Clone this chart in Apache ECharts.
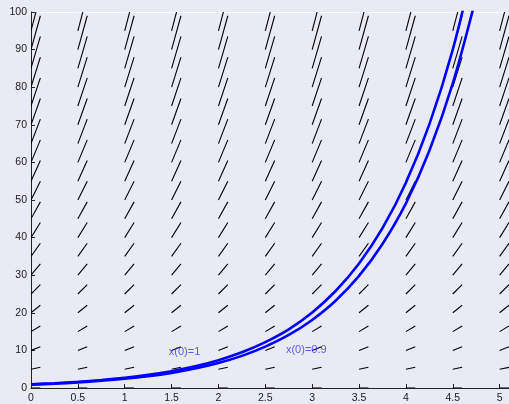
<!DOCTYPE html>
<html>
<head>
<meta charset="utf-8">
<script src="https://cdn.jsdelivr.net/npm/echarts@6/dist/echarts.min.js"></script>
<style>
  html, body { margin: 0; padding: 0; background: #eaeaf5; }
  #chart { width: 509px; height: 404px; }
</style>
</head>
<body>
<div id="chart"></div>
<script>
// Direction field of dx/dt = x and two solution curves.
const tGrid = [0, 0.5, 1, 1.5, 2, 2.5, 3, 3.5, 4, 4.5, 5];
const xGrid = [0, 5, 10, 15, 20, 25, 30, 35, 40, 45, 50, 55, 60, 65, 70, 75, 80, 85, 90, 95, 100];
const xTicks = [0, 0.5, 1, 1.5, 2, 2.5, 3, 3.5, 4, 4.5, 5];
const yTicks = [0, 10, 20, 30, 40, 50, 60, 70, 80, 90, 100];

// solution samples
const tSamples = [0, 0.25, 0.5, 0.75, 1, 1.25, 1.5, 1.75, 2, 2.25, 2.5, 2.75, 3, 3.25, 3.5, 3.75, 4, 4.25, 4.5, 4.75];
const xFrom1   = [1.0, 1.28, 1.65, 2.12, 2.72, 3.49, 4.48, 5.75, 7.39, 9.49, 12.2, 15.6, 20.1, 25.8, 33.1, 42.5, 54.6, 70.1, 90.0, 115.6];
const xFrom09  = [0.9, 1.15, 1.48, 1.91, 2.45, 3.14, 4.03, 5.18, 6.65, 8.54, 11.0, 14.1, 18.1, 23.2, 29.8, 38.3, 49.1, 63.1, 81.0, 104.0];

const curveLabels = ['x(0)=1', 'x(0)=0.9'];
const labelPos = [[1.47, 9.5], [2.72, 10.2]];

// slope at each field point: dx/dt = x
const fieldData = [];
tGrid.forEach(t => xGrid.forEach(x => fieldData.push([t, x, x])));

const STEP = 0.1; // length of each field segment along t

const chart = echarts.init(document.getElementById('chart'), null, { renderer: 'canvas' });

const fontFamily = '"Liberation Sans", Arial, Helvetica, sans-serif';

chart.setOption({
  backgroundColor: '#eaeaf5',
  animation: false,
  grid: { left: 31, right: 0, top: 12, bottom: 15, containLabel: false },
  xAxis: [{
    type: 'value', min: 0, max: 5.1,
    axisLine: { show: true, onZero: false, lineStyle: { color: '#222', width: 1 } },
    axisTick: { show: true, inside: true, length: 4, customValues: xTicks, lineStyle: { color: '#222' } },
    axisLabel: { customValues: xTicks, color: '#1a1a1a', fontSize: 10.5, fontFamily, margin: 5 },
    splitLine: { show: false }
  }, {
    type: 'value', min: 0, max: 5.1, position: 'top',
    axisLine: { show: true, onZero: false, lineStyle: { color: '#ffffff', width: 1 } },
    axisTick: { show: false }, axisLabel: { show: false }, splitLine: { show: false }
  }],
  yAxis: {
    type: 'value', min: 0, max: 100, interval: 10,
    axisLine: { show: true, onZero: false, lineStyle: { color: '#222', width: 1 } },
    axisTick: { show: true, inside: true, length: 4, lineStyle: { color: '#222' } },
    axisLabel: { color: '#1a1a1a', fontSize: 10.5, fontFamily, margin: 4 },
    splitLine: { show: false }
  },
  series: [
    {
      type: 'custom',
      name: 'field',
      clip: true,
      data: fieldData,
      encode: { x: 0, y: 1 },
      renderItem: function (params, api) {
        const t = api.value(0), x = api.value(1), s = api.value(2);
        const p0 = api.coord([t, x]);
        const p1 = api.coord([t + STEP, x + STEP * s]);
        return {
          type: 'line',
          shape: { x1: p0[0], y1: p0[1], x2: p1[0], y2: p1[1] },
          style: { stroke: '#000', lineWidth: 1.1 }
        };
      }
    },
    {
      type: 'line', name: curveLabels[0], smooth: 0.3, symbol: 'none', clip: true,
      data: tSamples.map((t, i) => [t, xFrom1[i]]),
      lineStyle: { color: '#0000ff', width: 2.6 }, z: 3
    },
    {
      type: 'line', name: curveLabels[1], smooth: 0.3, symbol: 'none', clip: true,
      data: tSamples.map((t, i) => [t, xFrom09[i]]),
      lineStyle: { color: '#0000ff', width: 2.6 }, z: 3
    },
    {
      type: 'scatter', name: 'labels', symbolSize: 0,
      data: labelPos.map((p, i) => ({ value: p, name: curveLabels[i] })),
      label: {
        show: true, position: 'right', distance: 0,
        formatter: p => p.name,
        color: '#3333ff', fontSize: 11, fontFamily
      },
      z: 4
    }
  ]
});
</script>
</body>
</html>
